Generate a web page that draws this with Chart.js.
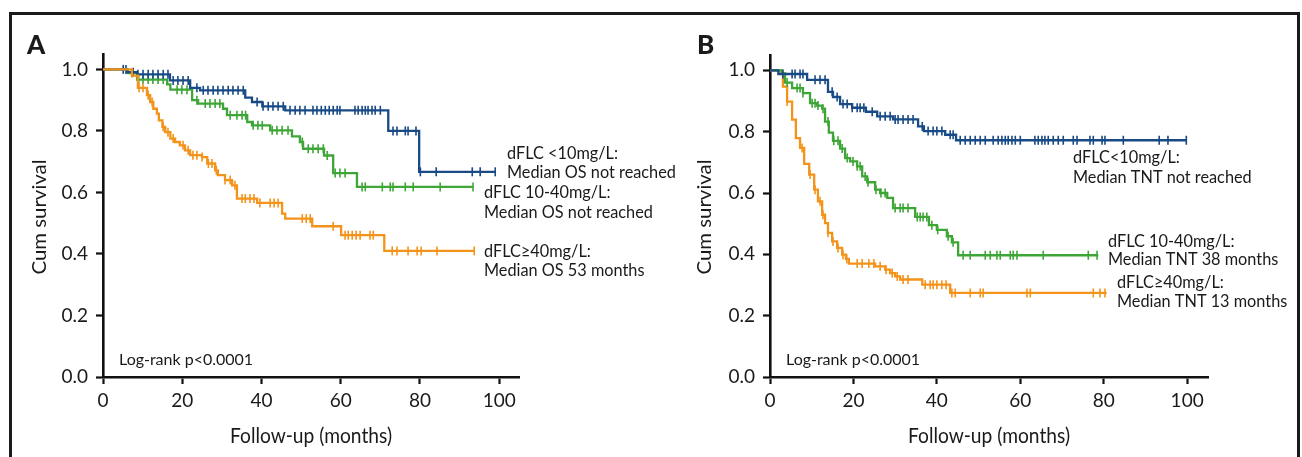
<!DOCTYPE html>
<html><head><meta charset="utf-8">
<script src="https://cdn.jsdelivr.net/npm/chart.js@4"></script>
<style>
html,body{margin:0;padding:0;background:#fff;width:1302px;height:457px;overflow:hidden}
#frame{position:absolute;left:9px;top:12px;width:1291px;height:470px;border:3px solid #1a1a1a;border-bottom:none;box-sizing:border-box}
.wrap{position:absolute;top:0;left:0;width:1302px;height:457px}
canvas{display:block}
</style></head><body>
<div id="frame"></div>
<div class="wrap"><canvas id="cA" width="1302" height="457"></canvas></div>
<div class="wrap"><canvas id="cB" width="1302" height="457"></canvas></div>
<script>
// ---------- data ----------
const monthTicks = [0, 20, 40, 60, 80, 100];
const survivalTicks = [0, 0.2, 0.4, 0.6, 0.8, 1.0];

// Panel A: overall survival
const osLowTime = [0, 6.1, 8.6, 16.9, 22.0, 24.5, 35.9, 37.6, 40.2, 46.0, 72.0, 79.8, 99.0];
const osLowSurv = [1.0, 0.991, 0.984, 0.964, 0.94, 0.932, 0.908, 0.894, 0.88, 0.867, 0.80, 0.667, 0.667];
const osLowCens = [5.1,5.8,7.6,8.8,10.1,11.4,12.6,13.9,15.2,16.4,17.7,18.9,20.2,21.5,23.7,25.3,26.5,27.8,29.0,30.3,31.6,32.8,34.1,35.4,38.9,40.4,41.7,42.9,44.2,45.5,47.2,48.5,49.7,51.0,53.0,54.0,55.1,56.1,57.1,58.1,59.1,59.8,63.6,64.4,65.4,66.2,66.9,67.9,68.7,70.0,73.2,74.2,76.3,77.0,79.0,80.1,84.1,93.2,95.2,99.0];

const osMidTime = [0, 6.3, 8.6, 16.2, 17.0, 22.5, 24.0, 30.3, 31.3, 36.4, 37.6, 42.2, 47.7, 49.7, 50.5, 55.8, 58.1, 64.1, 93.4];
const osMidSurv = [1.0, 0.988, 0.967, 0.951, 0.934, 0.90, 0.889, 0.872, 0.851, 0.829, 0.818, 0.802, 0.782, 0.764, 0.742, 0.72, 0.663, 0.618, 0.618];
const osMidCens = [7.3,9.0,10.1,11.4,12.6,13.9,15.2,18.7,19.9,21.2,23.7,25.8,27.0,28.3,29.5,32.1,33.8,35.1,36.0,37.9,39.1,40.2,42.7,43.9,45.2,46.7,50.3,51.8,53.0,54.3,55.6,56.6,58.6,59.8,61.1,65.4,66.2,70.5,72.5,73.2,76.3,78.3,85.1,93.4];

const osHighTime = [0, 7.3, 8.8, 11.1, 11.9, 12.7, 13.6, 14.1, 15.0, 15.7, 17.0, 18.2, 19.4, 20.7, 22.0, 25.0, 26.3, 28.3, 29.0, 30.8, 32.6, 33.8, 38.9, 45.2, 46.0, 52.8, 60.1, 71.0, 93.7];
const osHighSurv = [1.0, 0.98, 0.94, 0.916, 0.894, 0.872, 0.856, 0.834, 0.813, 0.796, 0.775, 0.764, 0.753, 0.737, 0.721, 0.715, 0.694, 0.672, 0.656, 0.64, 0.623, 0.58, 0.566, 0.531, 0.515, 0.49, 0.461, 0.41, 0.41];
const osHighCens = [9.1,10.1,11.4,12.4,15.2,16.4,17.7,20.2,21.5,22.7,23.7,25.0,26.6,27.5,28.6,30.8,32.1,33.3,35.1,35.9,37.1,38.1,39.6,42.2,43.2,44.2,50.3,51.3,52.3,58.1,61.1,61.9,62.9,63.9,64.9,67.4,68.2,73.0,74.2,77.0,79.3,80.3,84.3,93.7];

// Panel B: time to next treatment
const tntLowTime = [0, 2.0, 8.9, 13.9, 15.1, 16.8, 19.7, 23.0, 25.7, 29.5, 35.5, 36.9, 42.0, 44.6, 99.8];
const tntLowSurv = [1.0, 0.988, 0.969, 0.93, 0.913, 0.89, 0.878, 0.865, 0.85, 0.84, 0.817, 0.802, 0.79, 0.772, 0.772];
const tntLowCens = [3.1,5.3,6.0,7.2,7.9,10.8,12.0,13.2,14.9,16.1,17.5,18.5,19.7,20.9,21.6,22.5,24.5,26.4,27.6,28.8,30.0,30.7,31.9,33.1,34.3,36.5,37.9,39.1,40.0,41.2,43.2,43.9,45.6,46.8,48.0,49.2,50.4,51.6,53.5,54.7,55.6,56.4,57.1,58.0,58.8,60.0,63.5,64.3,65.2,65.9,66.7,67.9,69.1,70.3,72.7,73.6,76.7,77.5,79.6,80.3,84.7,93.3,95.4,99.8];

const tntMidTime = [0, 2.9, 3.6, 5.3, 7.9, 9.6, 11.3, 12.5, 13.2, 14.1, 15.1, 16.8, 18.0, 19.2, 20.9, 22.1, 23.3, 25.2, 26.4, 28.1, 29.5, 34.8, 38.1, 40.0, 42.4, 43.6, 45.1, 78.7];
const tntMidSurv = [1.0, 0.99, 0.96, 0.942, 0.926, 0.893, 0.885, 0.875, 0.833, 0.797, 0.77, 0.745, 0.714, 0.703, 0.687, 0.654, 0.635, 0.611, 0.6, 0.584, 0.551, 0.522, 0.495, 0.48, 0.459, 0.439, 0.397, 0.397];
const tntMidCens = [4.1,6.5,7.2,7.9,10.1,10.8,11.5,12.7,13.9,15.3,16.3,17.3,18.5,19.9,20.9,21.6,22.8,23.5,25.4,26.6,27.6,30.0,31.2,31.9,33.1,35.3,36.0,36.7,37.6,38.8,40.2,42.7,43.9,46.3,48.0,51.6,52.8,54.4,55.2,57.6,58.3,59.2,65.5,76.3,78.4];

const tntHighTime = [0, 2.6, 3.1, 4.1, 5.3, 6.2, 7.2, 8.2, 9.4, 10.6, 11.5, 12.5, 13.2, 13.9, 14.9, 16.1, 17.3, 18.2, 18.9, 25.2, 27.6, 28.8, 30.0, 31.2, 36.5, 43.2, 80.7];
const tntHighSurv = [1.0, 0.99, 0.947, 0.898, 0.839, 0.779, 0.747, 0.695, 0.66, 0.611, 0.573, 0.529, 0.502, 0.47, 0.442, 0.421, 0.399, 0.385, 0.37, 0.361, 0.35, 0.339, 0.328, 0.318, 0.301, 0.274, 0.274];
const tntHighCens = [4.1,7.7,9.6,10.8,12.0,12.7,13.9,15.1,16.3,17.5,18.4,20.9,22.1,23.7,24.9,26.4,27.8,29.3,30.5,31.9,33.1,37.2,38.4,39.1,40.0,41.2,42.2,43.6,44.4,48.0,50.4,51.1,61.6,62.4,77.5,79.1,80.3];

// ---------- helpers ----------
const BLUE = '#184a86', GREEN = '#3ea637', ORANGE = '#f4931a';
const FONT = 'Lato, "Open Sans", sans-serif';
const W = 1302, H = 457;

function survAt(times, surv, t) {
  let v = surv[0];
  for (let i = 0; i < times.length; i++) { if (times[i] <= t) v = surv[i]; else break; }
  return v;
}
function curveSets(times, surv, cens, color) {
  return [
    { data: times.map((t, i) => ({ x: t, y: surv[i] })), borderColor: color, borderWidth: 2.3,
      stepped: 'before', pointRadius: 0, fill: false, tension: 0 },
    { data: cens.map(t => ({ x: t, y: survAt(times, surv, t) })), showLine: false,
      pointStyle: 'line', rotation: 90, pointRadius: 4.5, pointBorderWidth: 1.6,
      pointBorderColor: color, borderColor: color, pointBackgroundColor: color }
  ];
}

function build(id, cfg) {
  const textPlugin = {
    id: 'texts',
    afterDraw(chart) {
      const ctx = chart.ctx;
      ctx.save();
      ctx.fillStyle = '#1a1a1a';
      ctx.textBaseline = 'alphabetic';
      ctx.textAlign = 'left';
      ctx.font = '900 26px ' + FONT;
      ctx.fillText(cfg.letter, cfg.letterPos[0], cfg.letterPos[1]);
      ctx.font = '16.3px ' + FONT;
      cfg.notes.forEach(n => ctx.fillText(n[0], n[1], n[2]));
      ctx.font = '16px ' + FONT;
      ctx.fillText('Log-rank p<0.0001', cfg.logrank[0], cfg.logrank[1]);
      ctx.font = '22px ' + FONT;
      let t = 'Follow-up (months)';
      let w = ctx.measureText(t).width;
      ctx.save();
      ctx.translate(cfg.xTitle[0], cfg.xTitle[1]);
      ctx.scale(162 / w, 1);
      ctx.textAlign = 'center';
      ctx.fillText(t, 0, 0);
      ctx.restore();
      ctx.font = '20px ' + FONT;
      t = 'Cum survival';
      w = ctx.measureText(t).width;
      ctx.save();
      ctx.translate(cfg.yTitle[0], cfg.yTitle[1]);
      ctx.rotate(-Math.PI / 2);
      ctx.scale(115 / w, 1);
      ctx.textAlign = 'center';
      ctx.textBaseline = 'middle';
      ctx.fillText(t, 0, 0);
      ctx.restore();
      ctx.restore();
    }
  };
  const a = cfg.area;
  return new Chart(document.getElementById(id), {
    type: 'line',
    data: { datasets: cfg.datasets },
    options: {
      responsive: false, animation: false, devicePixelRatio: 1,
      layout: { padding: { left: 0, top: a.top, right: W - a.right, bottom: 0 } },
      plugins: { legend: { display: false }, tooltip: { enabled: false } },
      scales: {
        x: {
          type: 'linear', min: 0, max: 105,
          afterBuildTicks: s => { s.ticks = monthTicks.map(v => ({ value: v })); },
          afterFit: s => { s.height = H - a.bottom; },
          ticks: { color: '#1a1a1a', font: { family: FONT, size: 19 }, padding: 5, maxRotation: 0,
                   callback: v => String(v) },
          grid: { display: true, drawOnChartArea: false, drawTicks: true, tickLength: 7, tickWidth: 2.2, tickColor: '#111' },
          border: { display: true, color: '#111', width: 2.6 }
        },
        y: {
          type: 'linear', min: 0, max: 1.05,
          afterBuildTicks: s => { s.ticks = survivalTicks.map(v => ({ value: v })); },
          afterFit: s => { s.width = a.left; },
          ticks: { color: '#1a1a1a', font: { family: FONT, size: 19 }, padding: 8,
                   callback: v => Number(v).toFixed(1) },
          grid: { display: true, drawOnChartArea: false, drawTicks: true, tickLength: 7, tickWidth: 2.2, tickColor: '#111' },
          border: { display: true, color: '#111', width: 2.6 }
        }
      }
    },
    plugins: [textPlugin]
  });
}

build('cA', {
  area: { left: 103, right: 519, top: 54, bottom: 377 },
  datasets: [
    ...curveSets(osHighTime, osHighSurv, osHighCens, ORANGE),
    ...curveSets(osLowTime, osLowSurv, osLowCens, BLUE),
    ...curveSets(osMidTime, osMidSurv, osMidCens, GREEN)
  ],
  letter: 'A', letterPos: [27, 54],
  notes: [
    ['dFLC <10mg/L:', 507, 159], ['Median OS not reached', 507, 178],
    ['dFLC 10-40mg/L:', 484, 198], ['Median OS not reached', 484, 218],
    ['dFLC\u226540mg/L:', 484, 257], ['Median OS 53 months', 484, 276]
  ],
  logrank: [119, 365],
  xTitle: [311, 443],
  yTitle: [40, 217]
});

build('cB', {
  area: { left: 770, right: 1208, top: 55, bottom: 377 },
  datasets: [
    ...curveSets(tntLowTime, tntLowSurv, tntLowCens, BLUE),
    ...curveSets(tntMidTime, tntMidSurv, tntMidCens, GREEN),
    ...curveSets(tntHighTime, tntHighSurv, tntHighCens, ORANGE)
  ],
  letter: 'B', letterPos: [697, 54],
  notes: [
    ['dFLC<10mg/L:', 1073, 163], ['Median TNT not reached', 1073, 183],
    ['dFLC 10-40mg/L:', 1108, 247], ['Median TNT 38 months', 1108, 265],
    ['dFLC\u226540mg/L:', 1117, 288], ['Median TNT 13 months', 1117, 307]
  ],
  logrank: [786, 365],
  xTitle: [989, 443],
  yTitle: [705, 217]
});
</script>
</body></html>
